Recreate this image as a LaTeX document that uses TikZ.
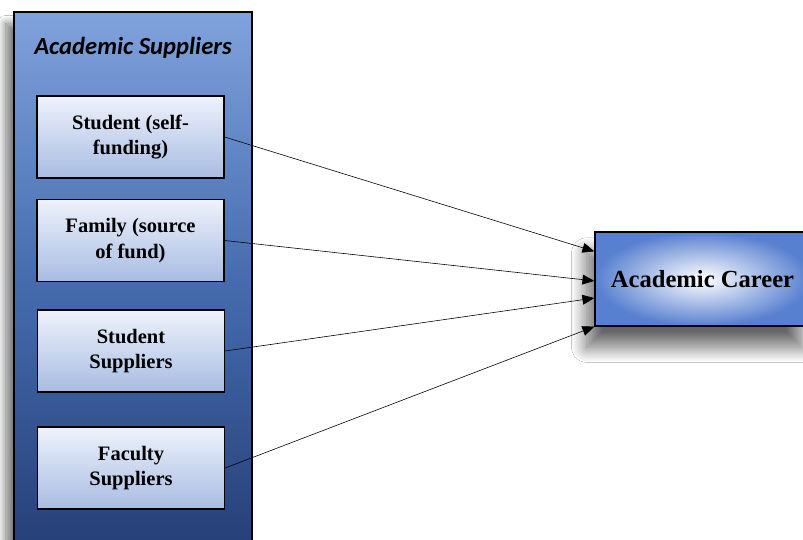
\documentclass[tikz,border=0pt]{standalone}
\usepackage{fontspec}
\setmainfont{Liberation Serif}
\newfontfamily\titlefont{Carlito}
\usetikzlibrary{arrows.meta}
\usetikzlibrary{calc}
\usetikzlibrary{shadows.blur}
\definecolor{paneltop}{RGB}{128,162,220}
\definecolor{panelmid}{RGB}{70,108,175}
\definecolor{panelbot}{RGB}{38,64,120}
\definecolor{boxtop}{RGB}{238,242,251}
\definecolor{boxbot}{RGB}{168,188,226}
\definecolor{careerout}{RGB}{88,128,208}
\tikzset{
  supplier/.style={draw=black,line width=1.1pt,minimum width=5.61cm,minimum height=2.46cm,
    top color=boxtop,bottom color=boxbot,align=center,font=\bfseries\fontsize{17.5}{22}\selectfont},
  feed/.style={-{Triangle[angle=45:11pt]},black,line width=0.5pt}
}
\begin{document}
\begin{tikzpicture}[x=0.03cm,y=-0.03cm]
		\useasboundingbox (0,0) rectangle (803,540);
		\fill[white] (0,0) rectangle (803,540);
		\draw[line width=1.1pt,top color=paneltop,bottom color=panelbot,middle color=panelmid,
		  blur shadow={shadow xshift=-7pt,shadow yshift=-10pt,shadow blur radius=7pt,shadow blur steps=20,shadow opacity=55}]
		  (14,12) rectangle (252,548);
		\node[font=\titlefont\bfseries\itshape\fontsize{21}{25}\selectfont] (title) at (133,48) {Academic Suppliers};
		\node[supplier] (stud) at (130.5,137) {Student (self-\\funding)};
		\node[supplier] (fam) at (130.5,240.5) {Family (source\\of fund)};
		\node[supplier] (ssup) at (131,351) {Student\\Suppliers};
		\node[supplier] (fsup) at (131,468) {Faculty\\Suppliers};
		\node[draw=black,line width=1.1pt,minimum width=6.45cm,minimum height=2.82cm,
		  inner color=white,outer color=careerout,
		  blur shadow={shadow xshift=-7pt,shadow yshift=-18pt,shadow blur radius=13pt,shadow blur steps=25,shadow opacity=60},
		  font=\bfseries\fontsize{21}{25}\selectfont] (career) at (702.5,279) {Academic Career};
		\draw[feed] (stud.east) -- ($(career.north west)!0.21!(career.south west)$);
		\draw[feed] (fam.east) -- ($(career.north west)!0.52!(career.south west)$);
		\draw[feed] (ssup.east) -- ($(career.north west)!0.70!(career.south west)$);
		\draw[feed] (fsup.east) -- (career.south west);
	\end{tikzpicture}
\end{document}
